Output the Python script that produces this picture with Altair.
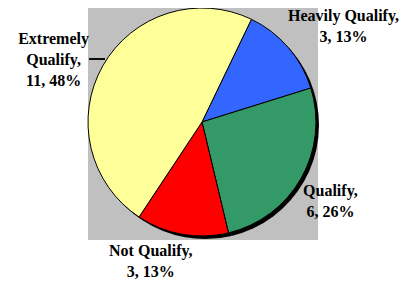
import math
import altair as alt
import pandas as pd

categories = ["Heavily Qualify", "Qualify", "Not Qualify", "Extremely Qualify"]
counts = [3, 6, 3, 11]
percents = ["13%", "26%", "13%", "48%"]
colors = ["#3366FF", "#339966", "#FF0000", "#FFFF99"]

total = sum(counts)
df = pd.DataFrame({
    "cat": categories,
    "n": counts,
    "ord": list(range(len(categories))),
})
df["label"] = [
    [f"{c},", f"{n}, {p}"] if c != "Extremely Qualify" else ["Extremely", "Qualify,", f"{n}, {p}"]
    for c, n, p in zip(categories, counts, percents)
]

start = math.radians(25.7)
theta_scale = alt.Scale(domain=[0, total], range=[start, start + 2 * math.pi])
color_scale = alt.Scale(domain=categories, range=colors)

CX, CY, R = 194, 114, 114

base = alt.Chart(df)

panel = base.mark_rect(color="#C0C0C0").encode(
    x=alt.value(80), x2=alt.value(310), y=alt.value(0), y2=alt.value(232)
)

shadow = base.mark_arc(radius=R, color="black").encode(
    theta=alt.Theta("n:Q", stack=True, scale=theta_scale),
    order=alt.Order("ord:Q"),
    x=alt.value(CX + 3), y=alt.value(CY + 3),
)

pie = base.mark_arc(radius=R, stroke="black", strokeWidth=1).encode(
    theta=alt.Theta("n:Q", stack=True, scale=theta_scale),
    order=alt.Order("ord:Q"),
    color=alt.Color("cat:N", scale=color_scale, legend=None),
    x=alt.value(CX), y=alt.value(CY),
)

leader = base.mark_rule(color="black", strokeWidth=1).encode(
    x=alt.value(81), x2=alt.value(97), y=alt.value(51)
)

nudges = {
    "Heavily Qualify": (28, -8),
    "Qualify": (-2, -5),
    "Not Qualify": (-25, -19),
    "Extremely Qualify": (-18, -9),
}

texts = []
for cat in categories:
    dx, dy = nudges[cat]
    t = base.mark_text(
        radius=150, font="Liberation Serif", fontSize=16, fontWeight="bold",
        lineHeight=21, align="center", baseline="middle", color="black",
        dx=dx, dy=dy,
    ).encode(
        theta=alt.Theta("n:Q", stack=True, scale=theta_scale),
        order=alt.Order("ord:Q"),
        text="label:N",
        x=alt.value(CX), y=alt.value(CY),
        opacity=alt.condition(alt.datum.cat == cat, alt.value(1), alt.value(0)),
    )
    texts.append(t)

chart = alt.layer(panel, shadow, pie, leader, *texts).properties(
    width=392, height=272, padding=0,
    autosize=alt.AutoSizeParams(type="none"),
    background="white",
).configure_view(stroke=None)

chart.save("out.html", embed_options={"renderer": "svg", "actions": False})
